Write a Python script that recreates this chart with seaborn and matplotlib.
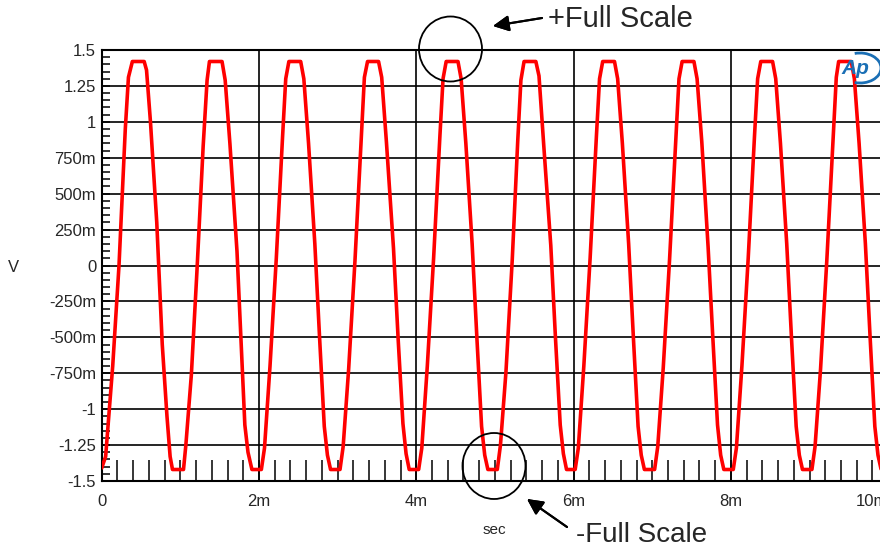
import numpy as np
import matplotlib
matplotlib.use('Agg')
import matplotlib.pyplot as plt
from matplotlib.patches import Ellipse, Arc
from matplotlib.transforms import IdentityTransform
import seaborn as sns

# clipped 1 kHz sine, vertices (time in ms, level in V)
time_ms = [
    0.00, 0.05, 0.14, 0.22, 0.30, 0.34, 0.39, 0.54, 0.57, 0.62, 0.70, 0.77, 0.83, 0.87, 0.90,
    1.04, 1.07, 1.14, 1.21, 1.29, 1.34, 1.37, 1.53, 1.57, 1.63, 1.72, 1.77, 1.82, 1.86, 1.91,
    2.03, 2.07, 2.14, 2.22, 2.30, 2.34, 2.38, 2.53, 2.57, 2.63, 2.71, 2.77, 2.83, 2.87, 2.91,
    3.03, 3.07, 3.14, 3.22, 3.30, 3.34, 3.38, 3.52, 3.56, 3.62, 3.71, 3.77, 3.83, 3.87, 3.91,
    4.03, 4.07, 4.14, 4.22, 4.30, 4.34, 4.38, 4.53, 4.57, 4.63, 4.71, 4.77, 4.83, 4.87, 4.91,
    5.03, 5.07, 5.14, 5.22, 5.29, 5.33, 5.37, 5.52, 5.56, 5.62, 5.71, 5.77, 5.83, 5.87, 5.91,
    6.02, 6.06, 6.13, 6.21, 6.29, 6.33, 6.37, 6.52, 6.56, 6.62, 6.70, 6.76, 6.82, 6.86, 6.90,
    7.03, 7.07, 7.14, 7.22, 7.30, 7.34, 7.38, 7.53, 7.57, 7.63, 7.71, 7.77, 7.83, 7.87, 7.91,
    8.03, 8.07, 8.14, 8.22, 8.30, 8.34, 8.38, 8.53, 8.57, 8.63, 8.71, 8.77, 8.83, 8.87, 8.91,
    9.03, 9.07, 9.14, 9.22, 9.30, 9.34, 9.37, 9.53, 9.57, 9.63, 9.71, 9.77, 9.83, 9.87, 9.91,
    10.00,
]
volts = [
    -1.41, -1.33, -0.70, 0.00, 0.95, 1.31, 1.42, 1.42, 1.36, 1.00, 0.30, -0.55, -1.05, -1.33, -1.42,
    -1.42, -1.25, -0.76, -0.05, 0.83, 1.29, 1.42, 1.42, 1.29, 0.85, 0.10, -0.50, -1.11, -1.30, -1.42,
    -1.42, -1.27, -0.70, 0.05, 0.90, 1.30, 1.42, 1.42, 1.30, 0.85, 0.15, -0.50, -1.12, -1.32, -1.42,
    -1.42, -1.26, -0.72, 0.03, 0.88, 1.31, 1.42, 1.42, 1.31, 0.86, 0.12, -0.52, -1.10, -1.31, -1.42,
    -1.42, -1.27, -0.70, 0.05, 0.90, 1.30, 1.42, 1.42, 1.30, 0.85, 0.15, -0.50, -1.12, -1.32, -1.42,
    -1.42, -1.25, -0.74, 0.04, 0.87, 1.29, 1.42, 1.42, 1.32, 0.84, 0.14, -0.51, -1.11, -1.31, -1.42,
    -1.42, -1.27, -0.70, 0.05, 0.90, 1.30, 1.42, 1.42, 1.30, 0.85, 0.15, -0.50, -1.12, -1.32, -1.42,
    -1.42, -1.26, -0.71, 0.04, 0.89, 1.30, 1.42, 1.42, 1.30, 0.86, 0.13, -0.50, -1.11, -1.32, -1.42,
    -1.42, -1.27, -0.70, 0.05, 0.90, 1.30, 1.42, 1.42, 1.30, 0.85, 0.15, -0.50, -1.12, -1.32, -1.42,
    -1.42, -1.26, -0.72, 0.04, 0.88, 1.31, 1.42, 1.42, 1.30, 0.85, 0.15, -0.50, -1.12, -1.32, -1.42,
    -1.42,
]

y_ticks = [-1.5, -1.25, -1.0, -0.75, -0.5, -0.25, 0.0, 0.25, 0.5, 0.75, 1.0, 1.25, 1.5]
y_labels = ['-1.5', '-1.25', '-1', '-750m', '-500m', '-250m', '0',
            '250m', '500m', '750m', '1', '1.25', '1.5']
x_ticks = [0, 2, 4, 6, 8, 10]
x_labels = ['0', '2m', '4m', '6m', '8m', '10m']

sns.set_style('white')
plt.rcParams['font.family'] = ['Liberation Sans', 'DejaVu Sans']

fig = plt.figure(figsize=(8.8, 5.48), dpi=100)
# right edge of the plot runs past the image, as in the original
ax = fig.add_axes([101.7 / 880, 67 / 548, 786.5 / 880, 431 / 548])

sns.lineplot(x=time_ms, y=volts, ax=ax, color='#ff0000', linewidth=2.6,
             sort=False, estimator=None, zorder=3)

ax.set_xlim(0, 10)
ax.set_ylim(-1.5, 1.5)
ax.set_xticks(x_ticks)
ax.set_xticklabels(x_labels)
ax.set_yticks(y_ticks)
ax.set_yticklabels(y_labels)
ax.set_xticks(np.arange(0, 10.01, 0.2), minor=True)
ax.set_yticks(np.arange(-1.5, 1.501, 0.05), minor=True)
# last label is pulled inside like on the analyzer printout
ax.get_xticklabels()[-1].set_horizontalalignment('right')

ax.grid(True, which='major', color='black', linewidth=1.2)
ax.tick_params(axis='x', which='both', direction='in', length=15, width=1.1,
               color='black', bottom=True, top=False, labelsize=12, pad=9)
ax.tick_params(axis='y', which='both', direction='in', length=5.5, width=1.1,
               color='black', left=True, right=False, labelsize=12, pad=4)
for s in ax.spines.values():
    s.set_color('black')
    s.set_linewidth(1.5)
ax.set_xlabel('')
ax.set_ylabel('')

fig.text(13 / 880, 1 - 267 / 548, 'V', fontsize=12, ha='center', va='center')
fig.text(494 / 880, 1 - 530 / 548, 'sec', fontsize=11, ha='center', va='center')

# annotation circles and arrows
px = IdentityTransform()
fig.patches.append(Ellipse((450.5, 548 - 49), 63, 65, transform=px,
                           fill=False, edgecolor='black', linewidth=1.3, zorder=10))
fig.patches.append(Ellipse((494, 548 - 466), 63, 66, transform=px,
                           fill=False, edgecolor='black', linewidth=1.3, zorder=10))
fig.add_artist(plt.annotate('', xy=(493, 548 - 26), xytext=(542, 548 - 18),
                            xycoords='figure pixels', textcoords='figure pixels',
                            arrowprops=dict(arrowstyle='-|>', color='black', lw=1.5,
                                            mutation_scale=24, shrinkA=0, shrinkB=0)))
fig.add_artist(plt.annotate('', xy=(527, 548 - 499), xytext=(567, 548 - 527),
                            xycoords='figure pixels', textcoords='figure pixels',
                            arrowprops=dict(arrowstyle='-|>', color='black', lw=1.5,
                                            mutation_scale=24, shrinkA=0, shrinkB=0)))
fig.text(548 / 880, 1 - 19 / 548, '+Full Scale', fontsize=21, ha='left', va='center')
fig.text(576 / 880, 1 - 535 / 548, '-Full Scale', fontsize=20, ha='left', va='center')

# Ap logo in the corner
fig.text(855 / 880, 1 - 69 / 548, 'Ap', fontsize=15, color='#1a6fb5', style='italic',
         weight='bold', ha='center', va='center', zorder=11)
fig.patches.append(Arc((860, 548 - 68), 42, 30, theta1=-110, theta2=110, transform=px,
                       edgecolor='#1a6fb5', linewidth=2, zorder=11))

fig.savefig('out.png', dpi=100)
